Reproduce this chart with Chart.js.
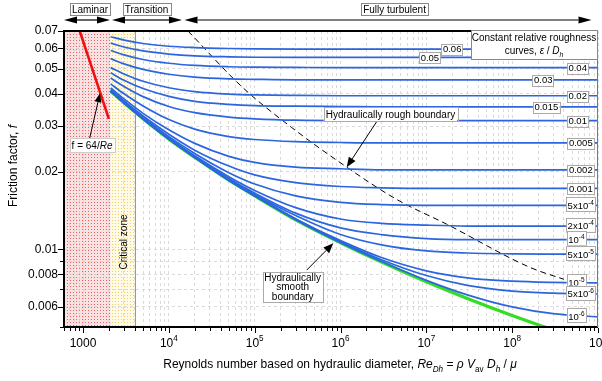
<!DOCTYPE html>
<html lang="en">
<head>
<meta charset="UTF-8">
<title>Moody diagram</title>
<script src="https://cdn.jsdelivr.net/npm/chart.js"></script>
<style>
  html, body { margin: 0; padding: 0; background: #fff; }
  canvas { display: block; }
</style>
</head>
<body>
<canvas id="moody" width="602" height="381"></canvas>
<script>
const reynolds = [2100, 3000, 5000, 1e4, 2e4, 5e4, 1e5, 3e5, 1e6, 3e6, 1e7, 3e7, 1e8, 3e8, 1e9];

const f_0_06  = [0.0665, 0.0645, 0.0626, 0.0611, 0.0604, 0.0599, 0.0597, 0.0596, 0.0596, 0.0596, 0.0596, 0.0596, 0.0596, 0.0596, 0.0596];
const f_0_05  = [0.0628, 0.0607, 0.0586, 0.0570, 0.0561, 0.0556, 0.0554, 0.0553, 0.0553, 0.0553, 0.0553, 0.0553, 0.0553, 0.0553, 0.0553];
const f_0_04  = [0.0588, 0.0566, 0.0543, 0.0525, 0.0515, 0.0509, 0.0507, 0.0506, 0.0505, 0.0505, 0.0505, 0.0505, 0.0505, 0.0505, 0.0505];
const f_0_03  = [0.0547, 0.0522, 0.0497, 0.0476, 0.0464, 0.0457, 0.0455, 0.0453, 0.0453, 0.0453, 0.0453, 0.0453, 0.0453, 0.0453, 0.0453];
const f_0_02  = [0.0505, 0.0477, 0.0447, 0.0422, 0.0408, 0.0399, 0.0396, 0.0394, 0.0393, 0.0393, 0.0393, 0.0393, 0.0393, 0.0393, 0.0393];
const f_0_015 = [0.0482, 0.0451, 0.0419, 0.0391, 0.0374, 0.0364, 0.0360, 0.0358, 0.0357, 0.0356, 0.0356, 0.0356, 0.0356, 0.0356, 0.0356];
const f_0_01  = [0.0460, 0.0427, 0.0390, 0.0357, 0.0338, 0.0325, 0.0320, 0.0316, 0.0315, 0.0315, 0.0315, 0.0315, 0.0315, 0.0315, 0.0315];
const f_0_005 = [0.0437, 0.0400, 0.0359, 0.0318, 0.0292, 0.0273, 0.0266, 0.0261, 0.0259, 0.0258, 0.0258, 0.0258, 0.0258, 0.0258, 0.0258];
const f_0_002 = [0.0421, 0.0382, 0.0336, 0.0290, 0.0257, 0.0229, 0.0217, 0.0208, 0.0205, 0.0203, 0.0203, 0.0203, 0.0203, 0.0203, 0.0203];
const f_0_001 = [0.0415, 0.0375, 0.0328, 0.0279, 0.0242, 0.0210, 0.0194, 0.0181, 0.0175, 0.0173, 0.0172, 0.0172, 0.0172, 0.0172, 0.0172];
const f_5e_4  = [0.0412, 0.0372, 0.0324, 0.0273, 0.0235, 0.0198, 0.0179, 0.0161, 0.0152, 0.0149, 0.0148, 0.0148, 0.0148, 0.0148, 0.0148];
const f_2e_4  = [0.0410, 0.0370, 0.0322, 0.0270, 0.0230, 0.0191, 0.0169, 0.0145, 0.0131, 0.0126, 0.0124, 0.0123, 0.0123, 0.0123, 0.0123];
const f_1e_4  = [0.0410, 0.0369, 0.0321, 0.0269, 0.0228, 0.0188, 0.0165, 0.0138, 0.0121, 0.0114, 0.0110, 0.0109, 0.0109, 0.0109, 0.0109];
const f_5e_5  = [0.0409, 0.0369, 0.0321, 0.0268, 0.0227, 0.0186, 0.0163, 0.0135, 0.0114, 0.0104, 0.00985, 0.00967, 0.00960, 0.00958, 0.00957];
const f_1e_5  = [0.0409, 0.0369, 0.0320, 0.0268, 0.0227, 0.0185, 0.0161, 0.0131, 0.0108, 0.00929, 0.00825, 0.00775, 0.00752, 0.00744, 0.00741];
const f_5e_6  = [0.0409, 0.0369, 0.0320, 0.0267, 0.0227, 0.0185, 0.0161, 0.0131, 0.0107, 0.00911, 0.00791, 0.00725, 0.00689, 0.00676, 0.00671];
const f_1e_6  = [0.0409, 0.0369, 0.0320, 0.0267, 0.0227, 0.0185, 0.0161, 0.0130, 0.0106, 0.00896, 0.00758, 0.00666, 0.00598, 0.00563, 0.00547];
const f_smooth = [0.0409, 0.0369, 0.0320, 0.0267, 0.0227, 0.0185, 0.0161, 0.0130, 0.0106, 0.00892, 0.00748, 0.00645, 0.00554, 0.00487, 0.00426];

const roughCurves = [f_0_06, f_0_05, f_0_04, f_0_03, f_0_02, f_0_015, f_0_01, f_0_005, f_0_002, f_0_001,
                     f_5e_4, f_2e_4, f_1e_4, f_5e_5, f_1e_5, f_5e_6, f_1e_6];
const roughLabels = ['0.06', '0.05', '0.04', '0.03', '0.02', '0.015', '0.01', '0.005', '0.002', '0.001',
                     '5x10^-4', '2x10^-4', '10^-4', '5x10^-5', '10^-5', '5x10^-6', '10^-6'];
const labelRe = [2e7, 1.1e7, 5.8e8, 2.3e8, 5.8e8, 2.5e8, 5.8e8, 6.3e8, 6.3e8, 6.3e8,
                 6.3e8, 6.3e8, 5.6e8, 6.3e8, 5.6e8, 6.3e8, 5.6e8];

const laminarRe = [800, 2000];
const laminarF = [0.08, 0.032];

const boundaryRe = [1.67e4, 7.3e4, 2.7e5, 1.18e6, 4.5e6, 1.73e7, 1.62e8, 4e8];
const boundaryF = [0.07, 0.0422, 0.0296, 0.0208, 0.0156, 0.0125, 0.0085, 0.00765];

const laminarZone = [600, 2100];
const criticalZone = [2100, 4000];

const xLabelValues = [1000, 1e4, 1e5, 1e6, 1e7, 1e8, 1e9];
const xLabelTexts = ['1000', '10^4', '10^5', '10^6', '10^7', '10^8', '10^9'];
const yLabelValues = [0.006, 0.008, 0.01, 0.02, 0.03, 0.04, 0.05, 0.06, 0.07];
const yGridValues = [0.005, 0.006, 0.007, 0.008, 0.009, 0.01, 0.02, 0.03, 0.04, 0.05, 0.06, 0.07];

const xGridValues = [];
for (let e = 2; e <= 9; e++) {
  for (let m = 1; m <= 9; m++) {
    const v = m * Math.pow(10, e);
    if (v >= 600 && v <= 1e9) xGridValues.push(v);
  }
}

const FONT = '"Liberation Sans", Arial, sans-serif';
const BLUE = '#2b66e0';

function pts(xs, ys) { return xs.map((x, i) => ({ x: x, y: ys[i] })); }

const datasets = roughCurves.map(c => ({
  data: pts(reynolds, c), borderColor: BLUE, borderWidth: 1.7
}));
datasets.push({ data: pts(boundaryRe, boundaryF), borderColor: '#000', borderWidth: 1, borderDash: [6, 4] });
datasets.push({ data: pts(laminarRe, laminarF), borderColor: '#ee1111', borderWidth: 2.6 });
datasets.push({ data: pts(reynolds, f_smooth), borderColor: '#33dd22', borderWidth: 3.2 });

function fontFor(flag, size) {
  const small = flag.includes('_') || flag.includes('^');
  return (flag.includes('i') ? 'italic ' : '') + (small ? size * 0.68 : size) + 'px ' + FONT;
}
function richWidth(ctx, parts, size) {
  let w = 0;
  parts.forEach(p => { ctx.font = fontFor(p[1] || '', size); w += ctx.measureText(p[0]).width; });
  return w;
}
function drawRich(ctx, parts, x, y, size, align) {
  const w = richWidth(ctx, parts, size);
  let cx = align === 'center' ? x - w / 2 : align === 'right' ? x - w : x;
  ctx.textAlign = 'left';
  ctx.textBaseline = 'alphabetic';
  parts.forEach(p => {
    const f = p[1] || '';
    ctx.font = fontFor(f, size);
    const dy = f.includes('_') ? size * 0.3 : f.includes('^') ? -size * 0.42 : 0;
    ctx.fillText(p[0], cx, y + dy);
    cx += ctx.measureText(p[0]).width;
  });
  return w;
}
function supParts(s) {
  const [b, e] = s.split('^');
  return e ? [[b, ''], [e, '^']] : [[b, '']];
}

function dotPattern(ctx, base, dot) {
  const c = document.createElement('canvas');
  c.width = 3; c.height = 3;
  const g = c.getContext('2d');
  g.fillStyle = base; g.fillRect(0, 0, 3, 3);
  g.fillStyle = dot; g.fillRect(1, 1, 1, 1);
  return ctx.createPattern(c, 'repeat');
}

const overlay = {
  id: 'overlay',
  beforeDraw(chart) {
    const { ctx, chartArea: a, scales: { x } } = chart;
    ctx.save();
    ctx.fillStyle = '#fff';
    ctx.fillRect(0, 0, chart.width, chart.height);
    ctx.fillStyle = dotPattern(ctx, '#fbe2e2', '#f06060');
    ctx.fillRect(x.getPixelForValue(laminarZone[0]), a.top, x.getPixelForValue(laminarZone[1]) - x.getPixelForValue(laminarZone[0]), a.bottom - a.top);
    ctx.fillStyle = dotPattern(ctx, '#fffbe6', '#f0d060');
    ctx.fillRect(x.getPixelForValue(criticalZone[0]), a.top, x.getPixelForValue(criticalZone[1]) - x.getPixelForValue(criticalZone[0]), a.bottom - a.top);
    ctx.restore();
  },
  beforeDatasetsDraw(chart) {
    const { ctx, chartArea: a, scales: { x } } = chart;
    const px = Math.round(x.getPixelForValue(criticalZone[1])) + 0.5;
    ctx.save();
    ctx.strokeStyle = '#999';
    ctx.lineWidth = 1;
    ctx.beginPath(); ctx.moveTo(px, a.top); ctx.lineTo(px, a.bottom); ctx.stroke();
    ctx.restore();
  },
  afterDraw(chart) {
    const { ctx, chartArea: a, scales: { x, y } } = chart;
    const X = v => x.getPixelForValue(v);
    const Y = v => y.getPixelForValue(v);
    const line = (x1, y1, x2, y2) => { ctx.beginPath(); ctx.moveTo(x1, y1); ctx.lineTo(x2, y2); ctx.stroke(); };
    const arrow = (x1, y1, x2, y2, len, hw) => {
      const ang = Math.atan2(y2 - y1, x2 - x1);
      const bx = x2 - len * Math.cos(ang), by = y2 - len * Math.sin(ang);
      line(x1, y1, bx, by);
      ctx.beginPath();
      ctx.moveTo(x2, y2);
      ctx.lineTo(bx + hw * Math.sin(ang), by - hw * Math.cos(ang));
      ctx.lineTo(bx - hw * Math.sin(ang), by + hw * Math.cos(ang));
      ctx.closePath(); ctx.fill();
    };
    const box = (x0, y0, w, h, stroke) => {
      ctx.fillStyle = '#fff'; ctx.fillRect(x0, y0, w, h);
      ctx.strokeStyle = stroke; ctx.lineWidth = 1;
      ctx.strokeRect(Math.round(x0) + 0.5, Math.round(y0) + 0.5, Math.round(w), Math.round(h));
      ctx.fillStyle = '#000';
    };

    ctx.save();
    // frame
    ctx.strokeStyle = '#000'; ctx.lineWidth = 2;
    ctx.beginPath(); ctx.moveTo(a.right, a.top); ctx.lineTo(a.left, a.top); ctx.lineTo(a.left, a.bottom); ctx.lineTo(a.right, a.bottom); ctx.stroke();
    ctx.strokeStyle = '#777'; ctx.lineWidth = 1;
    line(a.right - 0.5, a.top, a.right - 0.5, a.bottom);

    // ticks
    ctx.strokeStyle = '#000';
    xGridValues.forEach(v => {
      const px = Math.round(X(v)) + 0.5;
      line(px, a.bottom + 1, px, a.bottom + 1 + (xLabelValues.includes(v) ? 5 : 3));
    });
    yGridValues.forEach(v => {
      const py = Math.round(Y(v)) + 0.5;
      line(a.left - 1 - (yLabelValues.includes(v) ? 5 : 3), py, a.left - 1, py);
    });

    ctx.fillStyle = '#000';
    xLabelValues.forEach((v, i) => drawRich(ctx, supParts(xLabelTexts[i]), X(v), a.bottom + 19.5, 12, 'center'));

    // axis titles
    drawRich(ctx, [['Reynolds number based on hydraulic diameter, ', ''], ['Re', 'i'], ['Dh', '_i'], [' = ', ''],
      ['\u03c1', 'i'], [' ', ''], ['V', 'i'], ['av', '_'], [' ', ''], ['D', 'i'], ['h', '_i'], [' / ', ''], ['\u03bc', 'i']],
      340, 368, 12, 'center');
    ctx.save();
    ctx.translate(17, 166); ctx.rotate(-Math.PI / 2);
    drawRich(ctx, [['Friction factor, ', ''], ['f', 'i']], 0, 0, 12, 'center');
    ctx.restore();

    // flow regime arrows
    const zones = [['Laminar', 1205, 600, 2061], ['Transition', 5488, 2175, 1.42e4], ['Fully turbulent', 4.26e6, 1.52e4, 8.4e8]];
    ctx.strokeStyle = '#000'; ctx.fillStyle = '#000'; ctx.lineWidth = 1.2;
    zones.forEach(z => {
      const x1 = X(z[2]), x2 = X(z[3]), ay = a.top - 11, mid = (x1 + x2) / 2;
      arrow(mid, ay, x1, ay, 13, 3.5);
      arrow(mid, ay, x2, ay, 13, 3.5);
    });
    zones.forEach(z => {
      ctx.font = '10px ' + FONT;
      const w = ctx.measureText(z[0]).width + 4, cx = X(z[1]);
      box(cx - w / 2, 3, w, 12, '#888');
      drawRich(ctx, [[z[0], '']], cx, 12.6, 10, 'center');
    });

    // legend box
    box(a.right - 127, a.top - 1, 126, 29, '#888');
    drawRich(ctx, [['Constant relative roughness', '']], a.right - 64, a.top + 10, 10, 'center');
    drawRich(ctx, [['curves, ', ''], ['\u03b5', 'i'], [' / ', ''], ['D', 'i'], ['h', '_i']], a.right - 64, a.top + 22.5, 10, 'center');

    // curve labels
    roughLabels.forEach((lab, i) => {
      const c = roughCurves[i];
      const px = X(labelRe[i]), py = Y(c[c.length - 1]);
      const parts = supParts(lab);
      const w = richWidth(ctx, parts, 9.5) + 3;
      const top = py - 5 - (parts.length > 1 ? 3.5 : 0);
      box(px - w / 2, top, w, py + 5.5 - top, '#aaa');
      drawRich(ctx, parts, px, py + 3.4, 9.5, 'center');
    });

    // rough boundary annotation
    ctx.strokeStyle = '#000'; ctx.lineWidth = 1;
    arrow(X(2.64e6), Y(0.0312), X(1.18e6), Y(0.02077), 10, 4);
    ctx.font = '10px ' + FONT;
    let w = ctx.measureText('Hydraulically rough boundary').width + 4;
    box(X(3.82e6) - w / 2, Y(0.0334) - 7, w, 14, '#aaa');
    drawRich(ctx, [['Hydraulically rough boundary', '']], X(3.82e6), Y(0.0334) + 3.6, 10, 'center');

    // smooth boundary annotation
    ctx.strokeStyle = '#000';
    arrow(X(4.04e5), Y(0.00831), X(8.24e5), Y(0.01055), 10, 4);
    ctx.font = '10px ' + FONT;
    w = ctx.measureText('Hydraulically').width + 3;
    const sx = X(2.77e5), sy = Y(0.00716);
    box(sx - w / 2, sy - 15, w, 30, '#aaa');
    ['Hydraulically', 'smooth', 'boundary'].forEach((t, i) => drawRich(ctx, [[t, '']], sx, sy + 3.6 + (i - 1) * 9.5, 10, 'center'));

    // laminar formula
    ctx.strokeStyle = '#000';
    arrow(X(1189), Y(0.02673), X(1576), Y(0.04017), 9, 3.5);
    const parts = [['f = 64/', ''], ['Re', 'i']];
    w = richWidth(ctx, parts, 10) + 4;
    box(X(1272) - w / 2, Y(0.02533) - 7, w, 14, '#ccc');
    drawRich(ctx, parts, X(1272), Y(0.02533) + 3.6, 10, 'center');

    // critical zone
    ctx.save();
    ctx.translate(X(2922) + 3.6, Y(0.01067)); ctx.rotate(-Math.PI / 2);
    drawRich(ctx, [['Critical zone', '']], 0, 0, 10, 'center');
    ctx.restore();

    ctx.restore();
  }
};

new Chart(document.getElementById('moody'), {
  type: 'line',
  data: { datasets: datasets },
  options: {
    responsive: false,
    animation: false,
    layout: { padding: { top: 31, right: 4, left: 0, bottom: 0 } },
    plugins: { legend: { display: false }, tooltip: { enabled: false } },
    elements: { point: { radius: 0 }, line: { cubicInterpolationMode: 'monotone' } },
    scales: {
      x: {
        type: 'logarithmic', min: 600, max: 1e9,
        afterBuildTicks: s => { s.ticks = xGridValues.map(v => ({ value: v })); },
        afterFit: s => { s.height = 54; },
        ticks: { display: false },
        grid: { color: '#d2d2d2', lineWidth: 0.8, drawTicks: false },
        border: { display: false, dash: [3, 3] }
      },
      y: {
        type: 'logarithmic', min: 0.005, max: 0.07,
        afterBuildTicks: s => { s.ticks = yGridValues.map(v => ({ value: v })); },
        afterFit: s => { s.width = 64; },
        ticks: {
          autoSkip: false, padding: 6, color: '#000',
          font: { family: FONT, size: 12 },
          callback: v => yLabelValues.includes(v) ? String(v) : ''
        },
        grid: { color: '#d2d2d2', lineWidth: 0.8, drawTicks: false },
        border: { display: false, dash: [3, 3] }
      }
    }
  },
  plugins: [overlay]
});
</script>
</body>
</html>
